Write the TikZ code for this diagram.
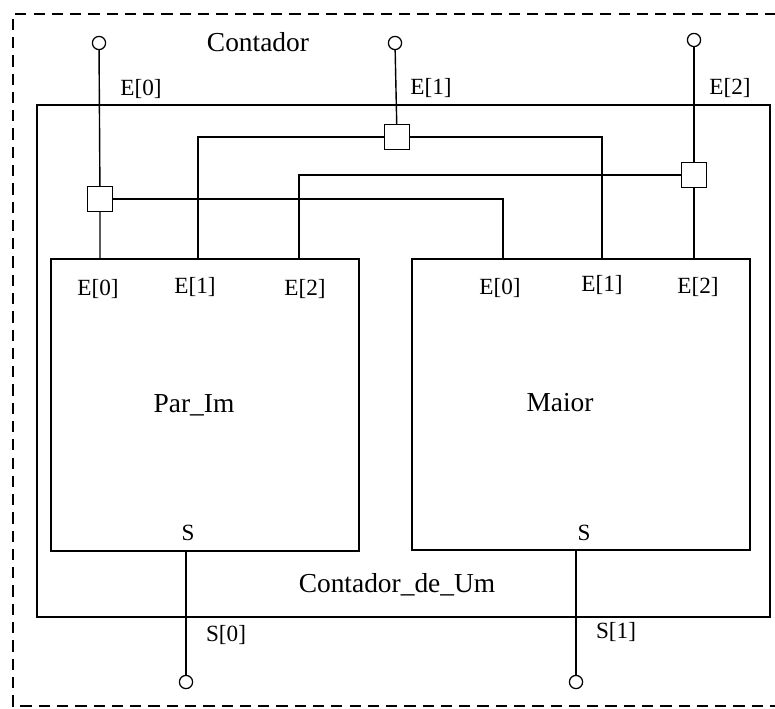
\documentclass[tikz,border=0pt]{standalone}
\usepackage{fontspec}
\setmainfont{Liberation Serif}
\usetikzlibrary{positioning}
\tikzset{
  terminal/.style={draw,circle,inner sep=0pt,minimum size=0.33cm,line width=0.9pt},
  junc/.style={draw,rectangle,inner sep=0pt,minimum size=0.63cm,fill=white,line width=0.9pt},
  lbl/.style={font=\fontsize{16.5}{18}\selectfont,inner sep=0pt},
  bigtext/.style={font=\fontsize{19.5}{22}\selectfont,inner sep=0pt}
}

\begin{document}
\begin{tikzpicture}[x=0.025cm,y=-0.025cm,line width=1pt]
\useasboundingbox (0,0) rectangle (775,709);
\draw[line width=0.9pt,dash pattern=on 8pt off 5pt] (776,14) -- (13,14) -- (13,706) -- (776,706);
\draw[line width=1.1pt] (37,105) rectangle (770,617);
\draw[line width=1.1pt] (51,259) rectangle (359,551);
\draw[line width=1.1pt] (412,259) rectangle (750,550);

% entradas e derivacoes
\node[terminal] (in0) at (99,43) {};
\node[terminal] (in1) at (395,43) {};
\node[terminal] (in2) at (694,40) {};
\node[junc] (j0) at (100,199) {};
\node[junc] (j1) at (397,137) {};
\node[junc] (j2) at (694,175) {};

\coordinate (p0) at (100,259);
\coordinate (p1) at (198,259);
\coordinate (p2) at (299,259);
\coordinate (m0) at (503,259);
\coordinate (m1) at (602,259);
\coordinate (m2) at (694,259);

\draw (in0) -- (j0) -- (p0);
\draw (in1) -- (j1);
\draw (in2) -- (j2) -- (m2);
\draw (j0) -- (j0 -| m0) -- (m0);
\draw (j1) -| (p1);
\draw (j1) -| (m1);
\draw (j2) -| (p2);

% saidas
\coordinate (s0) at (186,551);
\coordinate (s1) at (576,550);
\node[terminal] (out0) at (186,682) {};
\node[terminal] (out1) at (576,682) {};
\draw (s0) -- (out0);
\draw (s1) -- (out1);

\node[bigtext] (contador) at (258,42) {Contador};
\node[bigtext] (cdu) at (397,585) {Contador\_de\_Um};
\node[bigtext] (parim) at (194,405) {Par\_Im};
\node[bigtext] (maior) at (560,403) {Maior};

\node[lbl] at (141,89) {E[0]};
\node[lbl] at (431,88) {E[1]};
\node[lbl] at (730,88) {E[2]};
\node[lbl] at (98,289) {E[0]};
\node[lbl] at (195,287) {E[1]};
\node[lbl] at (305,289) {E[2]};
\node[lbl] at (500,288) {E[0]};
\node[lbl] at (602,285) {E[1]};
\node[lbl] at (698,287) {E[2]};
\node[lbl] at (188,533) {S};
\node[lbl] at (584,533) {S};
\node[lbl] at (226,635) {S[0]};
\node[lbl] at (616,632) {S[1]};
\end{tikzpicture}
\end{document}
